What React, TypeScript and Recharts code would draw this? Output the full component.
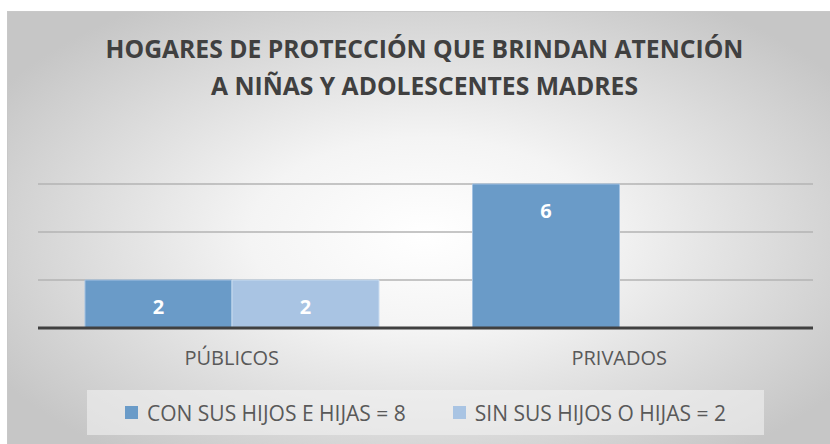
import React from 'react'
import { BarChart, Bar, XAxis, YAxis, CartesianGrid, Legend } from 'recharts'

const categories = ['PÚBLICOS', 'PRIVADOS']
const conHijos = [2, 6]
const sinHijos = [2, 0]
const yTicks = [0, 2, 4, 6]

const SERIES = [
  { key: 'con', name: 'CON SUS HIJOS E HIJAS = 8', color: '#6a9bc8', stroke: '#a3c2e2' },
  { key: 'sin', name: 'SIN SUS HIJOS O HIJAS = 2', color: '#a9c4e3', stroke: '#c9dcf0' },
]

const data = categories.map((c, i) => ({ name: c, con: conHijos[i], sin: sinHijos[i] }))

const FONT = '"Open Sans", "DejaVu Sans", sans-serif'

function BarLabel(props: any) {
  const { x, y, width, height, value } = props
  const cy = height > 0 ? y + 26 : y - 24
  return (
    <text
      x={x + width / 2}
      y={cy}
      textAnchor="middle"
      dominantBaseline="central"
      fill="#ffffff"
      fontFamily={FONT}
      fontWeight={700}
      fontSize={20}
    >
      {value}
    </text>
  )
}

function CategoryTick(props: any) {
  const { x, y, payload } = props
  return (
    <text x={x} y={y + 37} textAnchor="middle" fill="#595959" fontFamily={FONT} fontSize={20}>
      {payload.value}
    </text>
  )
}

function LegendBox(props: any) {
  const items = props.payload || []
  return (
    <div
      style={{
        width: '100%',
        height: '100%',
        background: 'rgba(242,242,242,0.6)',
        display: 'flex',
        alignItems: 'center',
        justifyContent: 'center',
        gap: 47,
        fontFamily: FONT,
        fontSize: 21,
        color: '#595959',
      }}
    >
      {items.map((it: any) => (
        <div key={it.value} style={{ display: 'flex', alignItems: 'center' }}>
          <span style={{ width: 13, height: 13, background: it.color, marginRight: 9, display: 'inline-block' }} />
          <span>{it.value}</span>
        </div>
      ))}
    </div>
  )
}

export default function App() {
  return (
    <div style={{ position: 'absolute', left: 0, top: 0, width: 830, height: 444, overflow: 'hidden', background: '#fff' }}>
      <div
        style={{
          position: 'absolute',
          left: 7,
          top: 11,
          width: 835,
          height: 445,
          borderTop: '1px solid #c8c8c8',
          borderLeft: '1px solid #c8c8c8',
          background: 'radial-gradient(ellipse 60% 62% at 50% 50%, #ffffff 0%, #f4f4f4 35%, #c6c6c6 100%)',
        }}
      />
      <svg width={830} height={120} style={{ position: 'absolute', left: 0, top: 0 }}>
        <text x={424.5} y={58} textAnchor="middle" fill="#404040" fontFamily={FONT} fontWeight={700} fontSize={24.7}>
          HOGARES DE PROTECCIÓN QUE BRINDAN ATENCIÓN
        </text>
        <text x={424.5} y={95} textAnchor="middle" fill="#404040" fontFamily={FONT} fontWeight={700} fontSize={24.7}>
          A NIÑAS Y ADOLESCENTES MADRES
        </text>
      </svg>
      <div style={{ position: 'absolute', left: 0, top: 0 }}>
        <BarChart
          width={830}
          height={444}
          data={data}
          margin={{ top: 184, right: 17, bottom: 86, left: 38 }}
          barCategoryGap={47}
          barGap={0}
        >
          <CartesianGrid vertical={false} stroke="#b3b3b3" strokeWidth={1.5} />
          <YAxis hide domain={[0, 6]} ticks={yTicks} />
          <XAxis
            dataKey="name"
            height={30}
            axisLine={{ stroke: '#404040', strokeWidth: 3 }}
            tickLine={false}
            tickSize={0}
            tickMargin={0}
            tick={<CategoryTick />}
            interval={0}
          />
          <Legend
            layout="horizontal"
            verticalAlign="middle"
            align="center"
            wrapperStyle={{ left: 87, top: 390, width: 677, height: 45 }}
            content={<LegendBox />}
          />
          {SERIES.map((s) => (
            <Bar
              key={s.key}
              dataKey={s.key}
              name={s.name}
              fill={s.color}
              stroke={s.stroke}
              strokeWidth={1}
              isAnimationActive={false}
              label={<BarLabel />}
            />
          ))}
        </BarChart>
      </div>
    </div>
  )
}
